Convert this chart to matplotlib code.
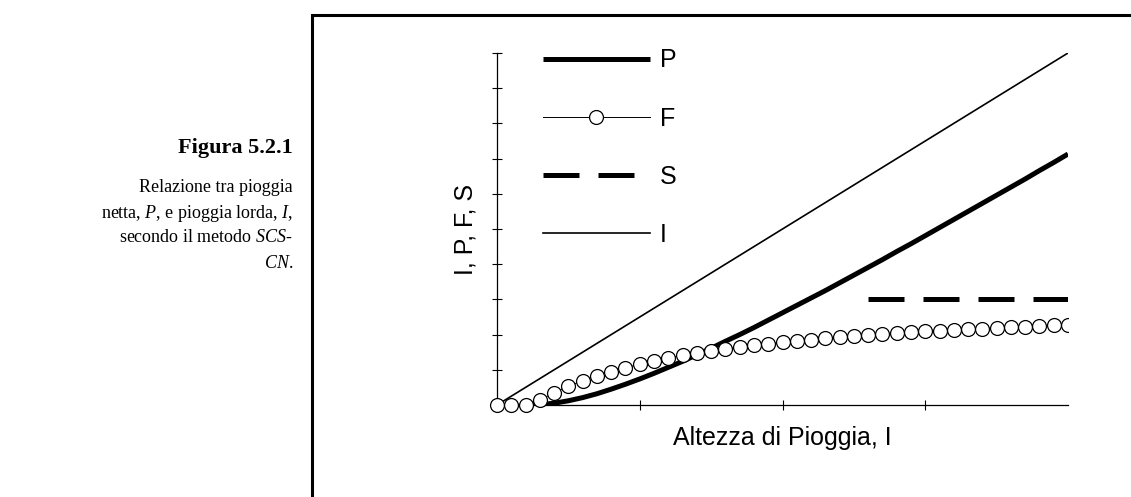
import matplotlib
matplotlib.use("Agg")
import matplotlib.pyplot as plt
from matplotlib.patches import Rectangle
from matplotlib.transforms import Bbox, TransformedBbox

plt.rcParams['font.family'] = ['Liberation Sans', 'DejaVu Sans']
plt.rcParams['mathtext.fontset'] = 'custom'
plt.rcParams['mathtext.rm'] = 'Liberation Serif'
plt.rcParams['mathtext.it'] = 'Liberation Serif:italic'

# altezza di pioggia I (asse x)
altezza = [0.0, 0.25, 0.5, 0.75, 1.0, 1.25, 1.5, 1.75, 2.0, 2.25,
           2.5, 2.75, 3.0, 3.25, 3.5, 3.75, 4.0, 4.25, 4.5, 4.75,
           5.0, 5.25, 5.5, 5.75, 6.0, 6.25, 6.5, 6.75, 7.0, 7.25,
           7.5, 7.75, 8.0, 8.25, 8.5, 8.75, 9.0, 9.25, 9.5, 9.75, 10.0]

# F - perdite (cerchi)
F = [0, 0, 0, 0.14, 0.35, 0.53, 0.69, 0.83, 0.95, 1.06,
     1.16, 1.25, 1.33, 1.41, 1.47, 1.54, 1.59, 1.65, 1.70, 1.74,
     1.78, 1.82, 1.86, 1.90, 1.93, 1.96, 1.99, 2.02, 2.04, 2.07,
     2.09, 2.11, 2.13, 2.15, 2.17, 2.19, 2.21, 2.23, 2.24, 2.26, 2.27]

# P - pioggia netta, parte da I = Ia
P_x = [0.6] + altezza[3:]
P = [0, 0.01, 0.05, 0.12, 0.21, 0.32, 0.45, 0.59, 0.74, 0.90, 1.07,
     1.24, 1.43, 1.61, 1.81, 2.00, 2.20, 2.41, 2.62, 2.83, 3.04,
     3.25, 3.47, 3.69, 3.91, 4.13, 4.36, 4.58, 4.81, 5.04, 5.27,
     5.50, 5.73, 5.96, 6.19, 6.42, 6.66, 6.89, 7.13]

# S - ritenzione potenziale
S_x = [6.5, 10.0]
S = [3.0, 3.0]

# I - pioggia lorda
I_x = [0.0, 10.0]
I = [0.0, 10.0]

W, H = 1131, 497
fig = plt.figure(figsize=(W / 100, H / 100), dpi=100)
ax = fig.add_axes([497 / W, (H - 405) / H, 571 / W, 352 / H])

ax.plot(P_x, P, color='black', lw=3.6, solid_capstyle='butt', label='P', zorder=2)
linea_f, = ax.plot(altezza, F, color='black', lw=0.7, marker='o', ms=10,
                   mfc='white', mec='black', mew=0.9, label='F', zorder=3)
linea_f.set_clip_box(TransformedBbox(Bbox([[-1, -1], [10, 11]]), ax.transData))
ax.plot(S_x, S, color='black', lw=3.6, ls=(0, (7.2, 3.8)), dash_capstyle='butt', label='S', zorder=2)
ax.plot(I_x, I, color='black', lw=1.2, label='I', zorder=2)

ax.set_xlim(0, 10)
ax.set_ylim(0, 10)
ax.set_xticks([2.5, 5, 7.5])
ax.set_yticks(range(0, 11))
ax.set_xticklabels([])
ax.set_yticklabels([])
ax.tick_params(direction='inout', length=7.5, width=0.8)
for s in ['top', 'right']:
    ax.spines[s].set_visible(False)
ax.spines['left'].set_linewidth(0.9)
ax.spines['bottom'].set_linewidth(0.9)

ax.set_xlabel("Altezza di Pioggia, I", fontsize=18)
ax.set_ylabel("I, P, F, S", fontsize=18)
ax.xaxis.set_label_coords(0.5, -0.06, transform=ax.transAxes)
ax.yaxis.set_label_coords(-0.055, 0.5, transform=ax.transAxes)
ax.xaxis.label.set_va('top')
ax.yaxis.label.set_va('center')

ax.legend(loc='upper left', bbox_to_anchor=(0.08, 1.013), frameon=False,
          fontsize=18, handlelength=4.3, handletextpad=0.4, labelspacing=1.37,
          borderpad=0, borderaxespad=0, numpoints=1)

# cornice della figura
fig.patches.append(Rectangle((312 / W, -0.1), 1.2, 1.1 - 15 / H,
                             transform=fig.transFigure, fill=False,
                             lw=2.2, ec='black'))

# didascalia
serif = 'Liberation Serif'
fig.text(293 / W, 1 - 148 / H, "Figura 5.2.1", family=serif, fontsize=16,
         fontweight='bold', ha='right', va='center')
righe = ["Relazione tra pioggia",
         "netta, $\\mathit{P}$, e pioggia lorda, $\\mathit{I}$,",
         "secondo il metodo $\\mathit{SCS}$-",
         "$\\mathit{CN}$."]
for k, riga in enumerate(righe):
    fig.text(293 / W, 1 - (188 + 25 * k) / H, riga, family=serif, fontsize=13,
             ha='right', va='center')

fig.savefig("out.png", dpi=100)
